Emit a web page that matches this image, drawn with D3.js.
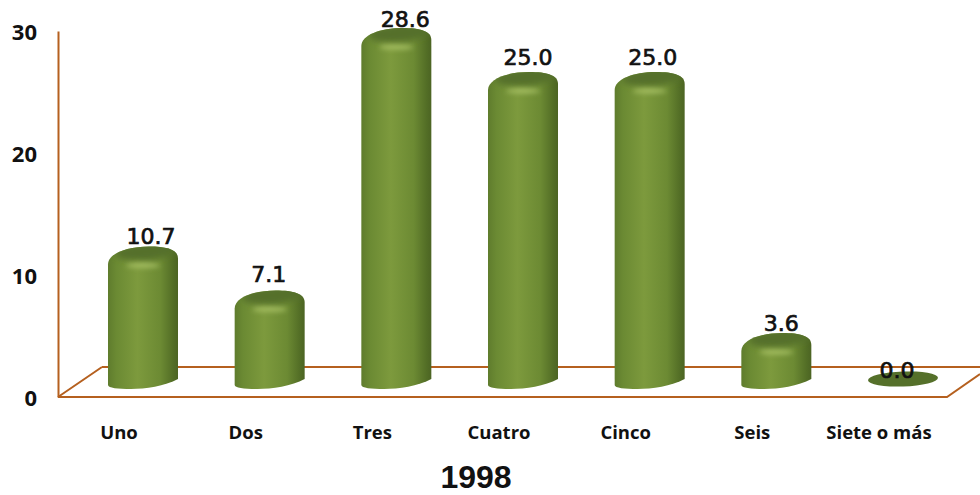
<!DOCTYPE html>
<html>
<head>
<meta charset="utf-8">
<script src="https://cdn.jsdelivr.net/npm/d3@7"></script>
<style>
  html, body { margin: 0; padding: 0; background: #fff; }
  svg { display: block; }
  text { fill: #111; }
</style>
</head>
<body>
<div id="chart"></div>
<script>
const categories = ["Uno", "Dos", "Tres", "Cuatro", "Cinco", "Seis", "Siete o más"];
const values = [10.7, 7.1, 28.6, 25.0, 25.0, 3.6, 0.0];
const yTicks = [0, 10, 20, 30];
const title = "1998";

// the source nudges its value labels by hand
const labelNudgeX = [8, -1, 9, 5, 3, 5, -6];
const labelNudgeY = [22, 28, 21, 27, 27, 22, 19];

const width = 980, height = 495;
const axisColor = "#b5601f";

const svg = d3.select("#chart").append("svg")
    .attr("width", width)
    .attr("height", height);

const x = d3.scalePoint().domain(categories).range([143, 903]);
const xLabel = d3.scalePoint().domain(categories).range([119, 879]);
const y = d3.scaleLinear().domain([0, 30]).range([397, 31]);

const rx = 35;          // cylinder radius
const depth = 30;       // floor depth
const floorY = y(0) - 16;  // centre of the cylinder's base

/** gradients and blur */
const defs = svg.append("defs");

const side = defs.append("linearGradient").attr("id", "side");
[[0, "#5f7c2d"], [0.12, "#6b8a33"], [0.42, "#7d9a3d"], [0.75, "#6c8a33"], [0.93, "#536e26"], [1, "#4c6423"]]
    .forEach(s => side.append("stop").attr("offset", s[0]).attr("stop-color", s[1]));

defs.append("filter").attr("id", "soft").attr("x", "-30%").attr("y", "-80%").attr("width", "160%").attr("height", "260%")
    .append("feGaussianBlur").attr("stdDeviation", 3);
defs.append("filter").attr("id", "glow").attr("x", "-50%").attr("y", "-150%").attr("width", "200%").attr("height", "400%")
    .append("feGaussianBlur").attr("stdDeviation", 2.6);

/** floor and walls, behind the bars */
const floor = d3.path();
floor.moveTo(102, y(0) - depth);
floor.lineTo(width, y(0) - depth);
floor.moveTo(58, y(0));
floor.lineTo(102, y(0) - depth);
floor.moveTo(58, y(0));
floor.lineTo(947, y(0));
floor.lineTo(width, y(0) - 23);
svg.append("path").attr("d", floor.toString())
    .attr("fill", "none").attr("stroke", axisColor).attr("stroke-width", 2);

/** y axis */
const yAxis = d3.axisLeft(y).tickValues(yTicks).tickSize(0).tickPadding(21).tickFormat(d3.format("d"));
const yG = svg.append("g").attr("transform", "translate(58,0)").call(yAxis);
yG.select(".domain").attr("stroke", axisColor).attr("stroke-width", 2);
yG.selectAll("text")
    .attr("font-family", "'Open Sans'")
    .attr("font-weight", 700)
    .attr("font-size", 22)
    .attr("dy", "0.38em")
    .attr("fill", "#111");

/** outline of one cylinder, tilted: left side sits lower than the right */
function cylinderPath(v) {
    const tc = y(v) - 11;
    const p = d3.path();
    p.moveTo(-rx, tc + 9);
    p.bezierCurveTo(-rx, tc - 2, -16, tc - 9, 6, tc - 9);
    p.bezierCurveTo(24, tc - 9, rx, tc - 6, rx, tc + 3);
    p.lineTo(rx, floorY - 2);
    p.bezierCurveTo(22, floorY + 5, 2, floorY + 8, -12, floorY + 8);
    p.bezierCurveTo(-25, floorY + 8, -rx, floorY + 7, -rx, floorY + 4);
    p.closePath();
    return p.toString();
}

/** cylinders */
const bars = svg.selectAll("g.bar")
    .data(categories.map((c, i) => ({ cat: c, val: values[i], i: i })))
    .enter().append("g")
    .attr("class", "bar")
    .attr("transform", d => `translate(${x(d.cat)},0)`);

const cyl = bars.filter(d => d.val > 0);

cyl.append("clipPath").attr("id", d => "clip" + d.i)
    .append("path").attr("d", d => cylinderPath(d.val));

cyl.append("path")
    .attr("d", d => cylinderPath(d.val))
    .attr("fill", "url(#side)");

const caps = cyl.append("g").attr("clip-path", d => `url(#clip${d.i})`);

// darker top face, fading into the rim
caps.append("ellipse")
    .attr("cx", 3).attr("cy", d => y(d.val) - 15).attr("rx", 31).attr("ry", 9)
    .attr("transform", d => `rotate(-5 3 ${y(d.val) - 15})`)
    .attr("fill", "#557029")
    .attr("filter", "url(#soft)");

// highlight under the rim
caps.append("ellipse")
    .attr("cx", 0).attr("cy", d => y(d.val) - 1).attr("rx", 17).attr("ry", 2.2)
    .attr("fill", "#a9c266")
    .attr("filter", "url(#glow)");

// flat disc for a zero value
bars.filter(d => d.val === 0).append("ellipse")
    .attr("cy", y(0) - 18).attr("rx", rx).attr("ry", 7.5)
    .attr("transform", `rotate(-2 0 ${y(0) - 18})`)
    .attr("fill", "#55702a");

/** value labels */
bars.append("text")
    .attr("text-anchor", "middle")
    .attr("x", d => labelNudgeX[d.i])
    .attr("y", d => y(d.val) - labelNudgeY[d.i])
    .attr("font-family", "'DejaVu Sans'")
    .attr("font-size", 22)
    .attr("stroke", "#111")
    .attr("stroke-width", 0.7)
    .text(d => d.val.toFixed(1));

/** category labels */
svg.selectAll("text.cat")
    .data(categories)
    .enter().append("text")
    .attr("class", "cat")
    .attr("text-anchor", "middle")
    .attr("x", d => xLabel(d))
    .attr("y", 439)
    .attr("font-family", "'Open Sans'")
    .attr("font-weight", 700)
    .attr("font-size", 18.5)
    .text(d => d);

svg.append("text")
    .attr("x", 476).attr("y", 488)
    .attr("text-anchor", "middle")
    .attr("font-family", "'Liberation Sans'")
    .attr("font-weight", 700)
    .attr("font-size", 32)
    .text(title);
</script>
</body>
</html>
